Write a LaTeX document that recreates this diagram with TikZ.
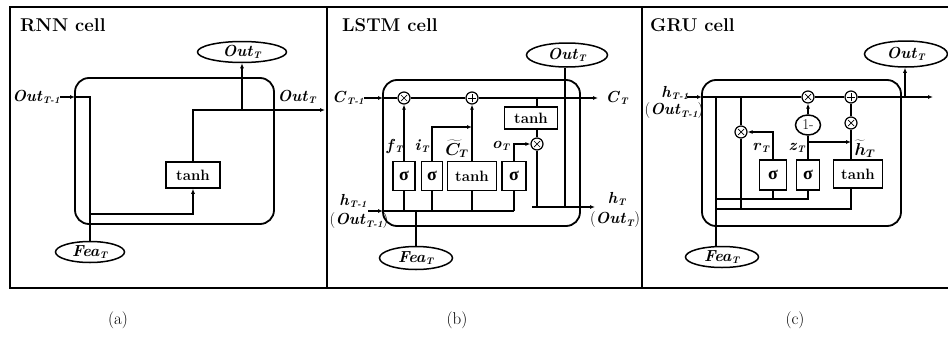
\documentclass[tikz,border=0pt]{standalone}
\usepackage{bm}
\usepackage{fontspec}
\newfontfamily\grk{Liberation Serif}
\usetikzlibrary{arrows.meta,shapes.geometric,calc}

\newcommand{\vlab}[2]{\textbf{\textit{#1}}\raisebox{-0.35ex}{\fontsize{9.5}{10}\selectfont\textbf{\textit{#2}}}}
\newcommand{\sig}{{\grk\fontsize{18}{18}\selectfont σ}}

\tikzset{
    panelframe/.style={line width=2pt},
    wire/.style={line width=1.5pt},
    arr/.style={wire, -{Latex[length=5pt,width=4pt]}},
    cellbox/.style={line width=1.8pt, rounded corners=14pt},
    gatebox/.style={draw, line width=1.5pt, minimum height=29pt, inner sep=1pt,
        font=\fontsize{15}{17}\selectfont\bfseries},
    ellip/.style={ellipse, draw, line width=1.5pt, inner sep=0pt,
        font=\fontsize{16}{18}\selectfont},
    onebox/.style={ellipse, draw, line width=1.5pt, inner sep=0pt,
        minimum width=25pt, minimum height=20pt, font=\fontsize{15}{17}\selectfont},
    lbl/.style={inner sep=0pt, font=\fontsize{16}{18}\selectfont},
    ttl/.style={anchor=west, inner sep=0pt, font=\fontsize{18.5}{20}\selectfont\bfseries},
    subcap/.style={inner sep=0pt, font=\fontsize{17}{19}\selectfont},
    mulop/.style={circle, draw, line width=1.2pt, minimum size=12pt, inner sep=0pt,
        path picture={\draw[line width=0.7pt]
            (path picture bounding box.center) +(-3pt,-3pt) -- +(3pt,3pt)
            (path picture bounding box.center) +(-3pt,3pt) -- +(3pt,-3pt);}},
    addop/.style={circle, draw, line width=1.2pt, minimum size=12pt, inner sep=0pt,
        path picture={\draw[line width=0.7pt]
            (path picture bounding box.center) +(-4pt,0pt) -- +(4pt,0pt)
            (path picture bounding box.center) +(0pt,-4pt) -- +(0pt,4pt);}},
}

\begin{document}
\begin{tikzpicture}[x=1pt,y=-1pt]
\useasboundingbox (0,0) rectangle (948,343);

% --------------------
% Frame and captions
% --------------------
\draw[panelframe] (948,7) -- (10,7) -- (10,288) -- (948,288);
\draw[panelframe] (327,7) -- (327,288);
\draw[panelframe] (642,7) -- (642,288);

\node[subcap] (capa) at (118,320) {(a)};
\node[subcap] (capb) at (457,320) {(b)};
\node[subcap] (capc) at (795,320) {(c)};

% --------------------
% RNN cell
% --------------------
\node[ttl] (ttla) at (20,25) {RNN cell};
\draw[cellbox] (75,78) rectangle (274,224);

\node[ellip, minimum width=89pt, minimum height=21pt] (outa) at (242,52) {\vlab{Out}{T}};
\node[ellip, minimum width=69pt, minimum height=21pt] (feaa) at (90,252) {\vlab{Fea}{T}};
\node[gatebox, minimum width=54pt, minimum height=26pt] (tanha) at (193,175) {tanh};
\node[lbl] (prevla) at (36,97) {\vlab{Out}{T-1}};
\node[lbl] (nextla) at (297,97) {\vlab{Out}{T}};

\coordinate (ina) at (75,97);
\coordinate (turna) at (90,97);
\coordinate (basea) at (90,214);
\coordinate (joina) at (242,110);
\coordinate (enda) at (325,110);

\draw[arr] (prevla) -- (ina);
\draw[wire] (ina) -- (turna) -- (feaa.north);
\draw[arr] (basea) -| (tanha.south);
\draw[arr] (tanha.north) |- (enda);
\draw[arr] (joina) -- (outa.south);

% --------------------
% LSTM cell
% --------------------
\node[ttl] (ttlb) at (342,25) {LSTM cell};
\draw[cellbox] (383,80) rectangle (580,226);

\node[ellip, minimum width=81pt, minimum height=24pt] (outb) at (567,55) {\vlab{Out}{T}};
\node[ellip, minimum width=73pt, minimum height=23pt] (feab) at (416,258) {\vlab{Fea}{T}};
\node[lbl] (cprev) at (348,98) {\vlab{C}{T-1}};
\node[lbl] (cnext) at (617,98) {\vlab{C}{T}};
\node[lbl] (hprev) at (353,201) {\vlab{h}{T-1}};
\node[lbl] (oprev) at (359,221) {(\vlab{Out}{T-1})};
\node[lbl] (hnext) at (617,199) {\vlab{h}{T}};
\node[lbl] (onext) at (615,220) {(\vlab{Out}{T})};

\node[mulop] (fmul) at (404,98) {};
\node[addop] (cadd) at (472,98) {};
\node[gatebox, minimum width=53pt, minimum height=22pt] (tanhc) at (531,118) {tanh};
\node[mulop] (omul) at (537,144) {};
\node[gatebox, minimum width=22pt] (sigf) at (404,176) {\sig};
\node[gatebox, minimum width=21pt] (sigi) at (432,176) {\sig};
\node[gatebox, minimum width=49pt] (tanhb) at (472,176) {tanh};
\node[gatebox, minimum width=24pt] (sigo) at (514,176) {\sig};

\node[lbl] (flab) at (395,146) {\vlab{f}{T}};
\node[lbl] (ilab) at (422,146) {\vlab{i}{T}};
\node[lbl] (clab) at (457,149) {$\bm{\widetilde{C}_{T}}$};
\node[lbl] (olab) at (501,146) {\vlab{o}{T}};

\coordinate (cin) at (383,98);
\coordinate (cout) at (598,98);
\coordinate (ctap) at (537,98);
\coordinate (ibend) at (472,127);
\coordinate (harr) at (368,211);
\coordinate (hin) at (383,211);
\coordinate (hbus) at (514,211);
\coordinate (hstart) at (532,207);
\coordinate (hout) at (595,207);
\coordinate (otap) at (565,207);

\draw[arr] (cprev) -- (cin);
\draw[wire] (cin) -- (fmul) -- (cadd);
\draw[arr] (cadd) -- (cout);
\draw[wire] (ctap) -- (ctap |- tanhc.north);
\draw[wire] (ctap |- tanhc.south) -- (omul);
\draw[wire] (omul) -- (omul |- hstart);
\draw[arr] (hstart) -- (hout);
\draw[wire] (otap) -- (otap |- outb.south);

\draw[arr] (sigf) -- (fmul);
\draw[arr] (sigi) |- (ibend);
\draw[arr] (tanhb) -- (cadd);
\draw[arr] (sigo) |- (omul);

\draw[arr] (harr) -- (hin);
\draw[wire] (hin) -- (hbus);
\foreach \g in {sigf,sigi,tanhb,sigo}
    \draw[wire] (\g.south) -- (\g.south |- hin);
\draw[wire] (feab) -- (feab |- hin);

% --------------------
% GRU cell
% --------------------
\node[ttl] (ttlc) at (650,25) {GRU cell};
\draw[cellbox] (702,80) rectangle (901,226);

\node[ellip, minimum width=83pt, minimum height=26pt] (outc) at (906,54) {\vlab{Out}{T}};
\node[ellip, minimum width=73pt, minimum height=21pt] (feac) at (722,257) {\vlab{Fea}{T}};
\node[lbl] (gprev) at (675,93) {\vlab{h}{T-1}};
\node[lbl] (goprev) at (674,111) {(\vlab{Out}{T-1})};

\node[mulop] (zmul) at (808,97) {};
\node[addop] (hadd) at (851,97) {};
\node[mulop] (hmul) at (851,123) {};
\node[mulop] (rmul) at (741,132) {};
\node[onebox] (onem) at (808,125) {1-};
\node[gatebox, minimum width=27pt, minimum height=30pt] (sigr) at (773,175) {\sig};
\node[gatebox, minimum width=23pt, minimum height=30pt] (sigz) at (808,175) {\sig};
\node[gatebox, minimum width=49pt, minimum height=28pt] (tanhg) at (858,174) {tanh};

\node[lbl] (rlab) at (761,148) {\vlab{r}{T}};
\node[lbl] (zlab) at (797,148) {\vlab{z}{T}};
\node[lbl] (hlab) at (865,149) {$\bm{\widetilde{h}_{T}}$};

\coordinate (garr) at (687,97);
\coordinate (gin) at (702,97);
\coordinate (gout) at (933,97);
\coordinate (gtap) at (905,97);
\coordinate (feed) at (716,97);
\coordinate (rtap) at (741,97);
\coordinate (rbus) at (741,209);
\coordinate (zfork) at (808,142);
\coordinate (bus1) at (716,199);
\coordinate (bus2) at (716,209);

\draw[arr] (garr) -- (gin);
\draw[wire] (gin) -- (zmul) -- (hadd);
\draw[arr] (hadd) -- (gout);
\draw[arr] (gtap) -- (gtap |- outc.south);
\draw[wire] (feed) -- (feed |- feac.north);

\draw[wire] (rtap) -- (rmul) -- (rbus);
\draw[arr] (sigr) |- (rmul);
\draw[wire] (sigz) -- (onem);
\draw[arr] (onem) -- (zmul);
\draw[arr] (zfork) -- (zfork -| hmul.south);
\draw[wire] (hmul |- tanhg.north) -- (hmul) -- (hadd);

\draw[wire] (bus1) -| (sigz.south);
\draw[wire] (sigr.south) -- (sigr.south |- bus1);
\draw[wire] (bus2) -| (hmul |- tanhg.south);

\end{tikzpicture}
\end{document}
